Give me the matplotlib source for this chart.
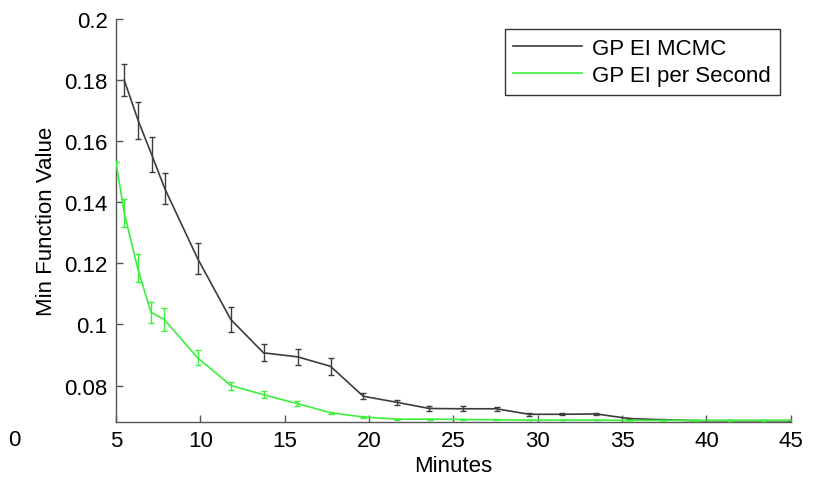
import matplotlib
matplotlib.use('Agg')
import matplotlib.pyplot as plt
from matplotlib.lines import Line2D
from matplotlib.ticker import FuncFormatter

plt.rcParams['font.family'] = ['Liberation Sans', 'DejaVu Sans']

# GP EI MCMC (black)
mcmc_t = [5.49, 6.32, 7.11, 7.90, 9.84, 11.81, 13.75, 15.77, 17.72, 19.66,
          21.67, 23.57, 25.58, 27.56, 29.49, 31.47, 33.48, 35.42, 37.43,
          39.4, 41.4, 43.4, 45.0]
mcmc_y = [0.1800, 0.1667, 0.1557, 0.1444, 0.1216, 0.1016, 0.0907, 0.0894,
          0.0863, 0.0765, 0.0745, 0.0725, 0.0724, 0.0724, 0.0706, 0.0706,
          0.0707, 0.0692, 0.0688, 0.0685, 0.0685, 0.0685, 0.0685]
mcmc_err = [0.0053, 0.0060, 0.0058, 0.0051, 0.0050, 0.0040, 0.0028, 0.0027,
            0.0028, 0.0010, 0.0009, 0.0007, 0.0008, 0.0006, 0.0005, 0.0003,
            0.0003, 0.0002, 0.0002, 0.0001, 0.0001, 0.0001, 0.0001]

# GP EI per Second (green)
sec_t = [5.0, 5.49, 6.28, 7.07, 7.87, 9.84, 11.81, 13.75, 15.75, 17.72,
         19.66, 21.67, 23.6, 25.6, 27.55, 29.5, 31.5, 33.5, 35.4, 37.4,
         39.4, 41.4, 43.4, 45.0]
sec_y = [0.1533, 0.1366, 0.1186, 0.1040, 0.1016, 0.0891, 0.0800, 0.0770,
         0.0741, 0.0711, 0.0697, 0.0690, 0.0690, 0.0689, 0.0688, 0.0687,
         0.0687, 0.0687, 0.0686, 0.0686, 0.0686, 0.0686, 0.0686, 0.0686]
sec_err = [0.0, 0.0046, 0.0046, 0.0035, 0.0038, 0.0025, 0.0013, 0.0012,
           0.0008, 0.0003, 0.0002, 0.0002, 0.0002, 0.0002, 0.0001, 0.0001,
           0.0001, 0.0001, 0.0001, 0.0001, 0.0001, 0.0001, 0.0001, 0.0]

labels = ['GP EI MCMC', 'GP EI per Second']
xticks = [5, 10, 15, 20, 25, 30, 35, 40, 45]
yticks = [0.08, 0.10, 0.12, 0.14, 0.16, 0.18, 0.20]

fig = plt.figure(figsize=(8.28, 4.85), dpi=100)
ax = fig.add_axes([0.140, 0.128, 0.815, 0.831])

black = '#3c3c3c'
green = '#3cf03c'
ax.errorbar(mcmc_t, mcmc_y, yerr=mcmc_err, color=black, ecolor=black,
            linewidth=1.2, elinewidth=1.0, capsize=2.5, capthick=1.0,
            zorder=2)
ax.errorbar(sec_t, sec_y, yerr=sec_err, color=green, ecolor=green,
            linewidth=1.2, elinewidth=1.0, capsize=2.5, capthick=1.0,
            zorder=3)

ax.set_xlim(5, 45)
ax.set_ylim(0.0681, 0.2)
ax.set_xticks(xticks)
ax.set_yticks(yticks)
ax.yaxis.set_major_formatter(FuncFormatter(lambda v, p: '%g' % round(v, 3)))

for s in ['top', 'right']:
    ax.spines[s].set_visible(False)
for s in ['left', 'bottom']:
    ax.spines[s].set_color('#555555')
    ax.spines[s].set_linewidth(1.0)
ax.tick_params(direction='in', length=5, width=1.0, color='#555555',
               labelsize=16, pad=6)

ax.set_xlabel('Minutes', fontsize=16, labelpad=3)
ax.set_ylabel('Min Function Value', fontsize=16, labelpad=5)

# stray tick label left of the axes
fig.text(8 / 828, 1 - 441 / 485, '0', fontsize=16, ha='left', va='center')

handles = [Line2D([], [], color=black, linewidth=1.2),
           Line2D([], [], color=green, linewidth=1.2)]
leg = ax.legend(handles, labels, loc='upper right',
                bbox_to_anchor=(0.984, 0.975), fontsize=16,
                fancybox=False, framealpha=1, edgecolor='#333333',
                borderpad=0.4, labelspacing=0.28, handlelength=3.1,
                handletextpad=0.45, borderaxespad=0)
leg.get_frame().set_linewidth(1.0)

plt.savefig('out.png', dpi=100)
